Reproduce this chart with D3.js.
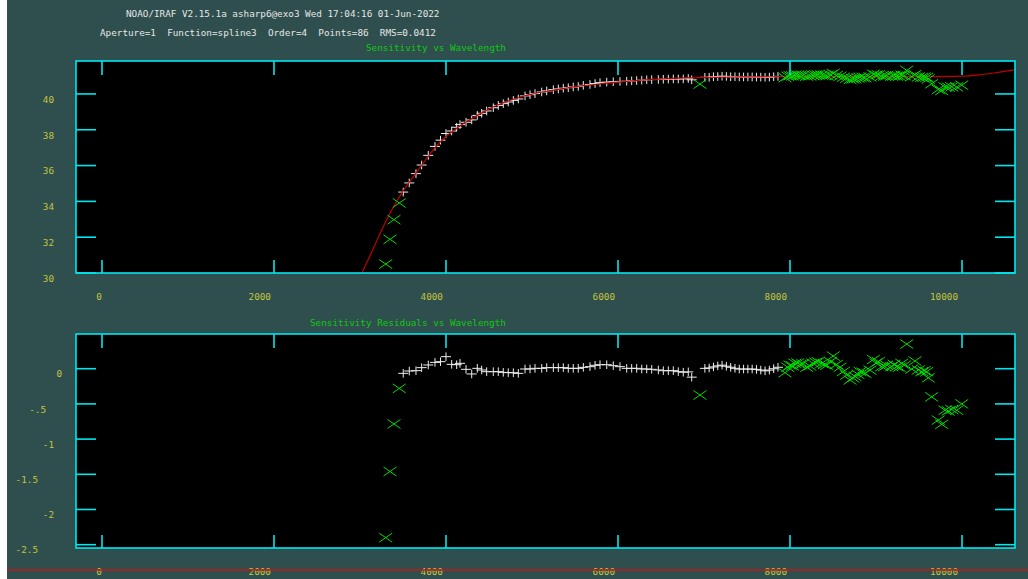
<!DOCTYPE html>
<html>
<head>
<meta charset="utf-8">
<script src="https://cdn.jsdelivr.net/npm/d3@7"></script>
<style>
  html, body { margin: 0; padding: 0; background: #2f4f4f; }
  svg { display: block; }
  text { font-family: "DejaVu Sans Mono", monospace; font-size: 9.3px; }
</style>
</head>
<body>
<svg id="chart" width="1028" height="579"></svg>
<script>
// ---- sensitivity function data (used points) ----
const waveUsed = [3503,3573,3651,3717,3794,3872,3936,4000,4066,4124,
  4163,4233,4299,4364,4415,4473,4550,4608,4666,4724,
  4783,4841,4919,4977,5035,5113,5171,5248,5306,5364,
  5422,5480,5538,5597,5674,5733,5791,5869,5945,6023,
  6101,6159,6217,6276,6334,6392,6469,6527,6585,6643,
  6701,6759,6817,6857,7010,7060,7110,7160,7210,7260,
  7310,7360,7410,7460,7510,7560,7610,7660,7710,7760,7810,7860];
const sensUsed = [34.52,35.03,35.55,36.03,36.57,37.07,37.42,37.79,37.93,38.14,
  38.29,38.42,38.55,38.80,38.92,39.05,39.23,39.36,39.46,39.55,
  39.64,39.72,39.89,39.96,40.02,40.11,40.17,40.24,40.28,40.32,
  40.35,40.39,40.42,40.48,40.53,40.58,40.63,40.66,40.68,40.70,
  40.71,40.73,40.75,40.77,40.79,40.80,40.81,40.82,40.83,40.84,
  40.84,40.84,40.86,40.79,40.93,40.93,40.96,40.97,40.99,40.98,
  40.96,40.96,40.95,40.95,40.95,40.95,40.94,40.94,40.93,40.94,40.96,40.98];
const residUsed = [-0.066,-0.033,-0.028,0.015,0.053,0.09,0.10,0.171,0.062,0.057,
  0.076,-0.009,-0.075,0.005,-0.018,-0.042,-0.042,-0.042,-0.052,-0.056,
  -0.057,-0.066,-0.004,-0.004,0.005,0.005,0.015,0.015,0.015,0.015,
  0.005,0.005,0.005,0.019,0.029,0.048,0.057,0.057,0.043,0.029,
  0.005,0.005,0.005,-0.004,-0.004,-0.009,-0.018,-0.028,-0.028,-0.028,
  -0.042,-0.05,-0.045,-0.12,0.005,0.01,0.025,0.04,0.05,0.035,
  0.02,0.005,-0.005,-0.005,-0.005,-0.005,-0.01,-0.02,-0.03,-0.02,0,0.02];

// ---- deleted points ----
const waveRej = [3299,3349,3395,3457,6953,
  7942,7975,8000,8030,8058,8090,8116,8150,8194,8230,
  8267,8300,8326,8369,8400,8427,8470,8503,8540,8581,
  8620,8659,8698,8730,8756,8790,8814,8850,8872,8930,
  8969,9000,9027,9066,9100,9124,9182,9210,9240,9270,
  9299,9330,9357,9415,9453,9492,9531,9560,9589,9608,
  9647,9724,9764,9802,9840,9880,9938,9997];
const sensRej = [30.50,31.88,32.98,33.91,40.55,
  40.91,40.99,41.02,41.01,41.05,41.05,41.03,41.04,40.99,41.01,
  41.05,41.06,41.07,41.05,41.03,41.02,41.07,41.15,41.03,40.99,
  40.93,40.88,40.81,40.84,40.86,40.89,40.93,40.92,40.91,40.95,
  41.10,41.05,41.07,41.00,41.00,41.02,41.00,41.03,41.00,40.99,
  41.05,41.02,41.32,40.97,41.08,40.95,40.93,40.94,40.93,40.84,
  40.57,40.25,40.19,40.39,40.38,40.40,40.39,40.49];
const residRej = [-2.40,-1.46,-0.785,-0.28,-0.374,
  -0.057,0.02,0.05,0.04,0.076,0.08,0.06,0.07,0.02,0.04,
  0.076,0.09,0.10,0.076,0.06,0.05,0.10,0.18,0.06,0.02,
  -0.04,-0.09,-0.16,-0.13,-0.11,-0.08,-0.04,-0.05,-0.065,-0.02,
  0.13,0.08,0.10,0.03,0.03,0.05,0.03,0.06,0.03,0.02,
  0.076,0.05,0.35,-0.005,0.11,-0.018,-0.042,-0.03,-0.042,-0.13,
  -0.40,-0.73,-0.79,-0.59,-0.60,-0.58,-0.59,-0.50];

// ---- fitted spline3 curve ----
const fitWave = [3023,3100,3200,3300,3400,3500,3600,3700,3800,3900,
  4000,4100,4200,4300,4400,4500,4600,4700,4800,4900,
  5000,5200,5400,5600,5800,6000,6200,6400,6600,6800,
  7000,7400,7800,8200,9000,9600,9900,10000,10200,10400,10616];
const fitSens = [30.00,30.80,31.85,32.88,33.78,34.57,35.24,35.90,36.56,37.15,
  37.62,38.00,38.33,38.62,38.90,39.16,39.38,39.57,39.73,39.87,
  39.99,40.18,40.33,40.46,40.57,40.66,40.74,40.81,40.86,40.90,
  40.92,40.95,40.96,40.97,40.97,40.97,40.98,40.99,41.07,41.19,41.34];

// ---- ticks and labels ----
const waveTicks = [0, 2000, 4000, 6000, 8000, 10000];
const sensTicks = [30, 32, 34, 36, 38, 40];
const residTicks = [0, -0.5, -1, -1.5, -2, -2.5];
const residTickLabels = ["0", "-.5", "-1", "-1.5", "-2", "-2.5"];

const headerLine1 = "NOAO/IRAF V2.15.1a asharp6@exo3 Wed 17:04:16 01-Jun-2022";
const headerLine2 = "Aperture=1  Function=spline3  Order=4  Points=86  RMS=0.0412";
const titleTop = "Sensitivity vs Wavelength";
const titleBottom = "Sensitivity Residuals vs Wavelength";

// ---- drawing ----
const svg = d3.select("#chart");
const W = 1028, H = 579;
const FRAME = "#00e6ee", LABEL = "#c4c43c", TITLE = "#10c810";
const PLUS = "#eeeeee", CROSS = "#00dc00", FIT = "#c00000";

svg.append("rect").attr("width", W).attr("height", H).attr("fill", "#2f4f4f");
svg.append("rect").attr("width", 7).attr("height", H).attr("fill", "#ffffff");

const plotLeft = 76, plotRight = 1015;
const x = d3.scaleLinear().domain([-302, 10616]).range([plotLeft, plotRight]);

const panels = [
  { top: 61, bottom: 273, domain: [30, 41.84], ticks: sensTicks,
    labels: sensTicks.map(String), used: sensUsed, rej: sensRej, id: "top" },
  { top: 334, bottom: 548, domain: [-2.547, 0.493], ticks: residTicks,
    labels: residTickLabels, used: residUsed, rej: residRej, id: "bot" }
];

const plusPath = "M-5,0H5M0,-4.3V4.3";
const crossPath = "M-6.5,-4.5L6.5,4.5M-6.5,4.5L6.5,-4.5";

panels.forEach(p => {
  const y = d3.scaleLinear().domain(p.domain).range([p.bottom, p.top]);
  p.y = y;
  const g = svg.append("g");

  g.append("rect").attr("x", plotLeft).attr("y", p.top)
    .attr("width", plotRight - plotLeft).attr("height", p.bottom - p.top)
    .attr("fill", "#000");

  svg.append("clipPath").attr("id", "clip-" + p.id)
    .append("rect").attr("x", plotLeft).attr("y", p.top)
    .attr("width", plotRight - plotLeft).attr("height", p.bottom - p.top);

  const data = g.append("g").attr("clip-path", `url(#clip-${p.id})`);

  // used points
  data.selectAll("path.used").data(waveUsed.map((w, i) => [w, p.used[i]]))
    .join("path").attr("class", "used")
    .attr("transform", d => `translate(${x(d[0])},${y(d[1])})`)
    .attr("d", plusPath).attr("stroke", PLUS).attr("stroke-width", 1)
    .attr("fill", "none");

  // fitted curve on the sensitivity panel
  if (p.id === "top") {
    const line = d3.line().x(d => x(d[0])).y(d => y(d[1])).curve(d3.curveMonotoneX);
    data.append("path").datum(fitWave.map((w, i) => [w, fitSens[i]]))
      .attr("d", line).attr("fill", "none").attr("stroke", FIT).attr("stroke-width", 1.2);
  }

  // deleted points
  data.selectAll("path.rej").data(waveRej.map((w, i) => [w, p.rej[i]]))
    .join("path").attr("class", "rej")
    .attr("transform", d => `translate(${x(d[0])},${y(d[1])})`)
    .attr("d", crossPath).attr("stroke", CROSS).attr("stroke-width", 1)
    .attr("fill", "none");

  // frame
  g.append("rect").attr("x", plotLeft).attr("y", p.top)
    .attr("width", plotRight - plotLeft).attr("height", p.bottom - p.top)
    .attr("fill", "none").attr("stroke", FRAME).attr("stroke-width", 1.6);

  // x ticks (top and bottom edges)
  waveTicks.forEach(v => {
    const px = x(v);
    g.append("line").attr("x1", px).attr("x2", px).attr("y1", p.top).attr("y2", p.top + 14)
      .attr("stroke", FRAME).attr("stroke-width", 1.6);
    g.append("line").attr("x1", px).attr("x2", px).attr("y1", p.bottom).attr("y2", p.bottom - 13)
      .attr("stroke", FRAME).attr("stroke-width", 1.6);
    const s = String(v);
    g.append("text").attr("x", px - 6.6 * s.length + 1).attr("y", p.bottom + 23.5)
      .attr("dy", "0.35em").attr("fill", LABEL).text(s);
  });

  // y ticks (left and right edges)
  p.ticks.forEach((v, i) => {
    const py = y(v);
    g.append("line").attr("x1", plotLeft).attr("x2", plotLeft + 20).attr("y1", py).attr("y2", py)
      .attr("stroke", FRAME).attr("stroke-width", 1.6);
    g.append("line").attr("x1", plotRight).attr("x2", plotRight - 20).attr("y1", py).attr("y2", py)
      .attr("stroke", FRAME).attr("stroke-width", 1.6);
    const s = p.labels[i];
    g.append("text").attr("x", 70 - 13.6 * s.length).attr("y", py + 5.5)
      .attr("dy", "0.35em").attr("fill", LABEL).text(s);
  });
});

// header and titles
svg.append("text").attr("x", 126).attr("y", 14).attr("dy", "0.35em").attr("fill", "#e6e6e6").text(headerLine1);
svg.append("text").attr("x", 100).attr("y", 33).attr("dy", "0.35em").attr("fill", "#e6e6e6")
  .attr("xml:space", "preserve").style("white-space", "pre").text(headerLine2);
svg.append("text").attr("x", 366).attr("y", 48).attr("dy", "0.35em").attr("fill", TITLE).text(titleTop);
svg.append("text").attr("x", 310).attr("y", 323).attr("dy", "0.35em").attr("fill", TITLE).text(titleBottom);

// red fit trace along the lower edge
svg.append("line").attr("x1", 7).attr("x2", W).attr("y1", 570).attr("y2", 570)
  .attr("stroke", "#c01818").attr("stroke-width", 1.3);
</script>
</body>
</html>
